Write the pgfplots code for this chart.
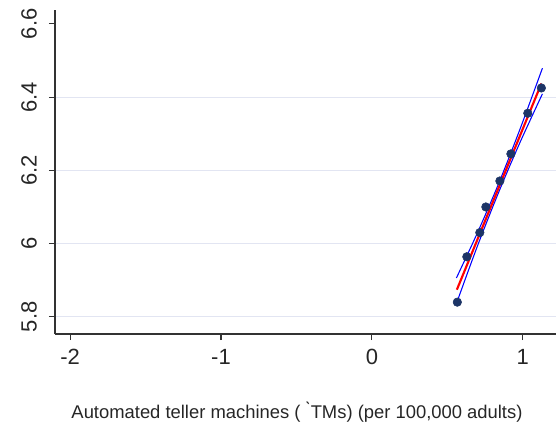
\documentclass[border=0pt]{standalone}
\usepackage{fontspec}
\setmainfont{Liberation Sans}
\usepackage{pgfplots}
\pgfplotsset{compat=1.18}

\definecolor{marknavy}{RGB}{28,52,102}
\definecolor{gridlav}{RGB}{226,229,242}
\definecolor{axisgray}{RGB}{50,50,50}

\begin{document}
\begin{tikzpicture}
\path[use as bounding box] (-41.25pt,-74.25pt) rectangle (375.75pt,250.5pt);
\begin{axis}[
  scale only axis,
  width=375.75pt, height=243pt,
  xmin=-2.1, xmax=1.22,
  ymin=5.753, ymax=6.638,
  axis lines=left,
  axis line style={axisgray, line width=0.9pt, -},
  xtick={-2,-1,0,1},
  ytick={5.8,6,6.2,6.4},
  extra y ticks={6.6},
  extra y tick style={grid=none},
  ymajorgrids,
  grid style={gridlav, line width=0.8pt},
  tick align=outside,
  major tick length=4.5pt,
  tick style={axisgray, line width=0.8pt},
  /pgf/number format/assume math mode=true,
  tick label style={font=\fontsize{16.5}{18}\selectfont, text=black!85},
  y tick label style={rotate=90, anchor=south, inner sep=1pt, yshift=8pt},
  x tick label style={inner sep=2pt, yshift=-5pt},
  xlabel={Automated teller machines ( \`{}TMs) (per 100,000 adults)},
  xlabel style={at={(axis description cs:0.483,0)}, anchor=center,
    yshift=-58.5pt, font=\fontsize{13.8}{16}\selectfont, text=black!85},
  clip=false,
]
% observed values
\addplot[only marks, mark=*, mark size=3.2pt, marknavy,
  mark options={draw=marknavy, fill=marknavy}] coordinates {
  (0.566,5.840) (0.629,5.964) (0.715,6.030) (0.755,6.100)
  (0.848,6.171) (0.921,6.245) (1.033,6.356) (1.123,6.425)
};
% confidence band of the linear fit
\addplot[blue, line width=0.8pt, smooth] coordinates {
  (0.56,5.906) (0.70,6.030) (0.84,6.164) (0.98,6.311) (1.13,6.479)
};
\addplot[blue, line width=0.8pt, smooth] coordinates {
  (0.56,5.836) (0.70,5.994) (0.84,6.140) (0.98,6.275) (1.13,6.409)
};
% linear fit
\addplot[red, line width=1.6pt] coordinates {
  (0.563,5.874) (1.123,6.437)
};
\end{axis}
\end{tikzpicture}
\end{document}
